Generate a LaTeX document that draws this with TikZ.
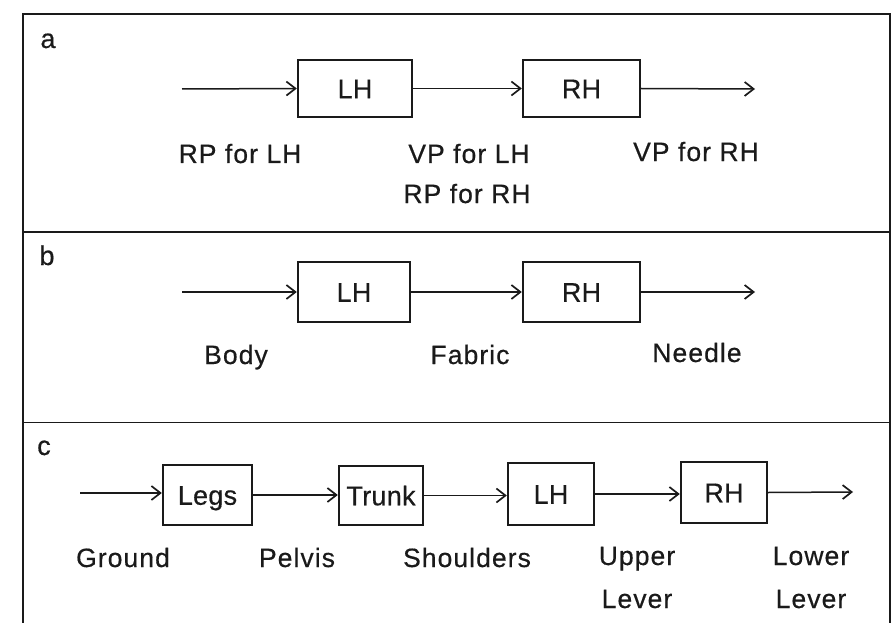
\documentclass[tikz,border=0pt]{standalone}
\usepackage{fontspec}
\setmainfont{Liberation Sans}
\newfontfamily\lblfont{Liberation Sans}[FakeBold=0.5,LetterSpace=4]
\newfontfamily\boxfont{Liberation Sans}[FakeBold=0.5,LetterSpace=1]
\usetikzlibrary{arrows.meta}
\definecolor{ink}{HTML}{1A1A1A}
\tikzset{
  frame/.style={draw=ink, line width=1.7pt},
  blockbox/.style={draw=ink, line width=2.4pt, inner sep=0pt, text height=19.5pt, text depth=0pt,
    font=\boxfont\fontsize{27}{32}\selectfont, text=ink},
  flow/.style={draw=ink, line width=1.5pt, -{Straight Barb[length=9pt,width=14pt,line width=1.7pt]}},
  lbl/.style={anchor=base, inner sep=0pt, font=\lblfont\fontsize{26.5}{30}\selectfont, text=ink},
  panel/.style={anchor=base, inner sep=0pt, font=\boxfont\fontsize{27}{30}\selectfont, text=ink}
}
\begin{document}
\begin{tikzpicture}[x=1pt,y=-1pt]
\useasboundingbox (0,0) rectangle (894,623);
\fill[white] (0,0) rectangle (894,623);
% frames
\draw[frame] (23,623) -- (23,14) -- (890,14) -- (890,623);
\draw[frame] (23,232) -- (890,232);
\draw[frame] (23,422.5) -- (890,422.5);
% panel letters
\node[panel] (la) at (48,48) {a};
\node[panel] (lb) at (47,265) {b};
\node[panel] (lc) at (44,455) {c};

% ---------- panel a ----------
\coordinate (ain) at (182,89);
\coordinate (aout) at (755,89);
\node[blockbox, minimum width=114pt, minimum height=57pt] (aLH) at (355,88.5) {LH};
\node[blockbox, minimum width=117pt, minimum height=57pt] (aRH) at (581.5,88.5) {RH};
\draw[flow] (ain) -- (aLH.west);
\draw[flow] (aLH.east) -- (aRH.west);
\draw[flow] (aRH.east) -- (aout);
\node[lbl] (a1) at (240,163) {RP for LH};
\node[lbl] (a2) at (469,163) {VP for LH};
\node[lbl] (a3) at (467,203) {RP for RH};
\node[lbl] (a4) at (696,161) {VP for RH};

% ---------- panel b ----------
\coordinate (bin) at (182,292);
\coordinate (bout) at (755,292);
\node[blockbox, minimum width=112pt, minimum height=60pt] (bLH) at (354,292) {LH};
\node[blockbox, minimum width=117pt, minimum height=60pt] (bRH) at (581.5,292) {RH};
\draw[flow] (bin) -- (bLH.west);
\draw[flow] (bLH.east) -- (bRH.west);
\draw[flow] (bRH.east) -- (bout);
\node[lbl] (b1) at (236,364) {Body};
\node[lbl] (b2) at (470,364) {Fabric};
\node[lbl] (b3) at (697,362) {Needle};

% ---------- panel c ----------
\coordinate (cin) at (80,493);
\coordinate (cout) at (853,492);
\node[blockbox, minimum width=89pt, minimum height=60pt] (cLegs) at (207.5,495) {Legs};
\node[blockbox, minimum width=84pt, minimum height=59pt] (cTrunk) at (381,495.5) {Trunk};
\node[blockbox, minimum width=86pt, minimum height=62pt] (cLH) at (551,494) {LH};
\node[blockbox, minimum width=86pt, minimum height=61pt] (cRH) at (724,492.5) {RH};
\draw[flow] (cin) -- (cin -| cLegs.west);
\draw[flow] (cLegs.east) -- (cLegs.east -| cTrunk.west);
\draw[flow] (cTrunk.east) -- (cTrunk.east -| cLH.west);
\draw[flow] (cLH.east) -- (cLH.east -| cRH.west);
\draw[flow] (cRH.east) -- (cout);
\node[lbl] (c1) at (123,567) {Ground};
\node[lbl] (c2) at (297,567) {Pelvis};
\node[lbl] (c3) at (467,567) {Shoulders};
\node[lbl] (c4) at (637,565) {Upper};
\node[lbl] (c5) at (637,608) {Lever};
\node[lbl] (c6) at (811,565) {Lower};
\node[lbl] (c7) at (811,608) {Lever};
\end{tikzpicture}
\end{document}
